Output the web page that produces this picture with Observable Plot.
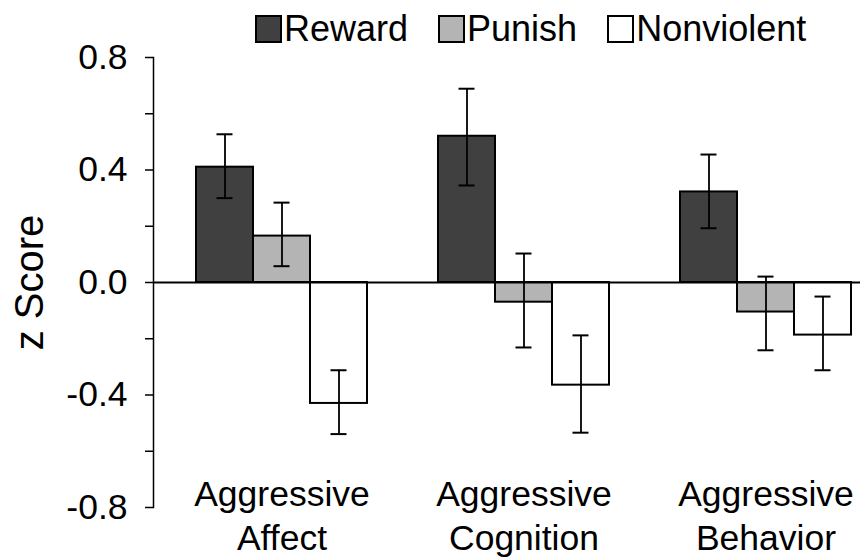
<!DOCTYPE html>
<html><head><meta charset="utf-8">
<script src="https://cdn.jsdelivr.net/npm/d3@7"></script>
<script src="https://cdn.jsdelivr.net/npm/@observablehq/plot@0.6"></script>
<style>
body{margin:0;background:#fff;font-family:"Liberation Sans",Arial,sans-serif;overflow:hidden;}
#legend{height:50px;box-sizing:border-box;padding:15px 0 0 255px;display:flex;gap:30px;}
.item{display:flex;align-items:flex-start;}
.sw{width:27px;height:28px;box-sizing:border-box;border:2px solid #000;margin-right:2px;}
.lab{font-size:36px;line-height:28px;color:#000;}
#chart svg{display:block;}
</style></head><body>
<div id="legend"></div><div id="chart"></div>
<script>
const categories = ["Aggressive Affect", "Aggressive Cognition", "Aggressive Behavior"];
const series = ["Reward", "Punish", "Nonviolent"];
const colors = ["#404040", "#b4b4b4", "#ffffff"];

const reward     = [0.41, 0.52, 0.322];
const punish     = [0.165, -0.07, -0.105];
const nonviolent = [-0.43, -0.365, -0.187];

const rewardLo     = [0.30, 0.345, 0.193];
const rewardHi     = [0.527, 0.689, 0.455];
const punishLo     = [0.058, -0.231, -0.241];
const punishHi     = [0.284, 0.103, 0.021];
const nonviolentLo = [-0.539, -0.534, -0.312];
const nonviolentHi = [-0.312, -0.188, -0.050];

const majorTicks = [-0.8, -0.4, 0, 0.4, 0.8];
const minorTicks = [-0.6, -0.2, 0.2, 0.6];

const values = [reward, punish, nonviolent];
const lows = [rewardLo, punishLo, nonviolentLo];
const highs = [rewardHi, punishHi, nonviolentHi];

const rows = categories.flatMap((c, ci) => series.map((s, si) => ({
  category: c, series: s, value: values[si][ci], lo: lows[si][ci], hi: highs[si][ci]
})));

// legend
const lg = document.getElementById("legend");
series.forEach((s, i) => {
  const it = document.createElement("div"); it.className = "item";
  const sw = document.createElement("div"); sw.className = "sw"; sw.style.background = colors[i];
  const lb = document.createElement("div"); lb.className = "lab"; lb.textContent = s;
  it.appendChild(sw); it.appendChild(lb); lg.appendChild(it);
});

const slot = 57; // one third of the group band
const cap = 8;
const font = "'Liberation Sans', Arial, sans-serif";

const marks = [];
series.forEach((s, i) => {
  const d = rows.filter(r => r.series === s);
  marks.push(Plot.barY(d, {x: "category", y: "value", fill: colors[i], stroke: "#000", strokeWidth: 2,
    insetLeft: i * slot, insetRight: (2 - i) * slot}));
});
marks.push(Plot.ruleY([0], {stroke: "#000", strokeWidth: 2}));
series.forEach((s, i) => {
  const d = rows.filter(r => r.series === s);
  marks.push(Plot.ruleX(d, {x: "category", y1: "lo", y2: "hi", dx: (i - 1) * slot, stroke: "#000", strokeWidth: 1.8}));
  for (const k of ["lo", "hi"]) {
    marks.push(Plot.tickY(d, {x: "category", y: k, stroke: "#000", strokeWidth: 2,
      insetLeft: i * slot + slot / 2 - cap, insetRight: (2 - i) * slot + slot / 2 - cap}));
  }
});
marks.push(Plot.frame({anchor: "left", stroke: "#000", strokeWidth: 1.5}));
marks.push(Plot.axisY({ticks: majorTicks, tickFormat: d => d.toFixed(1), tickSize: 8, tickPadding: 18,
  fontSize: 35.5, label: null, strokeWidth: 1.5, fill: "#000"}));
marks.push(Plot.axisY({ticks: minorTicks, tickFormat: () => "", tickSize: 8, label: null, strokeWidth: 1.5}));
marks.push(Plot.axisX({tickSize: 0, tickFormat: d => d.replace(" ", "\n"), fontSize: 35.5, lineHeight: 1.22,
  dy: -41, label: null, fill: "#000"}));
marks.push(Plot.text(["z Score"], {frameAnchor: "left", textAnchor: "middle", rotate: -90, dx: -123,
  fontSize: 40, fill: "#000"}));

const chart = Plot.plot({
  width: 860,
  height: 507,
  marginLeft: 153,
  marginRight: 0,
  marginTop: 7,
  marginBottom: 50,
  style: {fontFamily: font, color: "#000", background: "#fff", overflow: "visible"},
  x: {type: "band", domain: categories, paddingInner: 0.295, paddingOuter: 0.105, align: 0.82},
  y: {domain: [-0.8, 0.8]},
  marks
});
document.getElementById("chart").appendChild(chart);
</script>
</body></html>
